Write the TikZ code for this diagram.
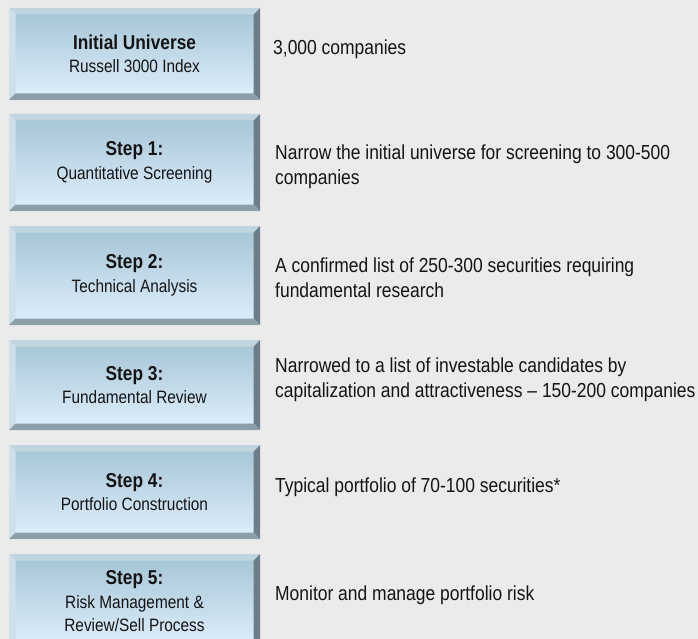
\documentclass[tikz,border=0pt]{standalone}
\usepackage{fontspec}
\setmainfont{Liberation Sans}[FakeStretch=0.86]
\usetikzlibrary{calc}

\definecolor{pagebg}{RGB}{235,235,235}
\definecolor{facetop}{RGB}{168,199,215}
\definecolor{facebot}{RGB}{220,236,251}
\definecolor{bevtop}{RGB}{192,213,224}
\definecolor{bevleft}{RGB}{206,224,233}
\definecolor{bevright}{RGB}{108,126,137}
\definecolor{bevbot}{RGB}{140,158,168}
\definecolor{ink}{RGB}{20,20,20}

\tikzset{
  face/.style={rectangle, inner sep=0pt, outer sep=0pt, draw=none,
    top color=facetop, bottom color=facebot, align=center, text=ink,
    font=\fontsize{17.9}{23.5}\selectfont},
  desc/.style={anchor=base west, inner sep=0pt, align=left, text=ink,
    font=\fontsize{20.3}{25}\selectfont},
}

% bevelled step box: name, top edge, bottom edge, label (y measured downwards)
\newcommand\bevelbox[4]{%
  \node[face, minimum width=238pt, minimum height={(#3)-(#2)-13pt}]
    (#1) at (134.5, {-((#2)+(#3))/2}) {#4};
  \coordinate (#1-nw) at ($(#1.north west)+(-6.5,6.5)$);
  \coordinate (#1-ne) at ($(#1.north east)+(6.5,6.5)$);
  \coordinate (#1-sw) at ($(#1.south west)+(-6.5,-6.5)$);
  \coordinate (#1-se) at ($(#1.south east)+(6.5,-6.5)$);
  \fill[bevtop] (#1-nw) -- (#1-ne) -- (#1.north east) -- (#1.north west) -- cycle;
  \fill[bevleft] (#1-nw) -- (#1.north west) -- (#1.south west) -- (#1-sw) -- cycle;
  \fill[bevright] (#1-ne) -- (#1-se) -- (#1.south east) -- (#1.north east) -- cycle;
  \fill[bevbot] (#1-sw) -- (#1.south west) -- (#1.south east) -- (#1-se) -- cycle;
}
\newcommand\boxtitle[1]{{\bfseries\fontsize{20.1}{23.5}\selectfont #1}}

\begin{document}
\begin{tikzpicture}[x=1pt, y=1pt]
  \fill[pagebg] (0,0) rectangle (698,-639);
  \useasboundingbox (0,0) rectangle (698,-639);
  \clip (0,0) rectangle (698,-639);

  \bevelbox{universe}{8}{100}{\boxtitle{Initial Universe}\\Russell 3000 Index}
  \bevelbox{step1}{114}{211}{\boxtitle{Step 1:}\\Quantitative Screening}
  \bevelbox{step2}{226}{325}{\boxtitle{Step 2:}\\Technical Analysis}
  \bevelbox{step3}{340}{430}{\boxtitle{Step 3:}\\Fundamental Review}
  \bevelbox{step4}{445}{539}{\boxtitle{Step 4:}\\Portfolio Construction}
  \bevelbox{step5}{554}{649}{\boxtitle{Step 5:}\\Risk Management \&\\Review/Sell Process}

  % descriptions: the base anchor sits on the last line of each text
  \node[desc] (d0) at (273,-55) {3,000 companies};
  \node[desc] (d1) at (275,-185) {Narrow the initial universe for screening to 300-500\\companies};
  \node[desc] (d2) at (275,-297) {A confirmed list of 250-300 securities requiring\\fundamental research};
  \node[desc] (d3) at (275,-397) {Narrowed to a list of investable candidates by\\capitalization and attractiveness – 150-200 companies};
  \node[desc] (d4) at (275,-492) {Typical portfolio of 70-100 securities*};
  \node[desc] (d5) at (275,-600) {Monitor and manage portfolio risk};
\end{tikzpicture}
\end{document}
